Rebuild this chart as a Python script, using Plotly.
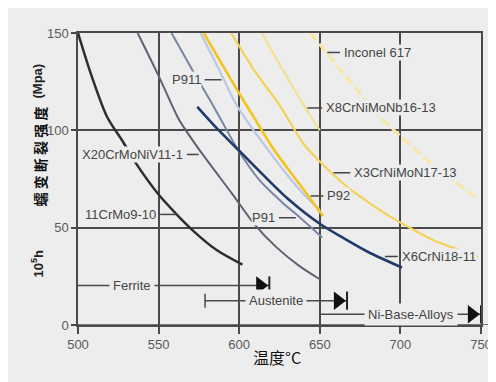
import math
import plotly.graph_objects as go

# ---------------- data ----------------
t_11crmo = [500, 508, 518, 528, 536, 550, 561, 572, 586, 602]
s_11crmo = [150, 129, 107, 94, 83, 67, 57, 48, 38.5, 31]

t_x20 = [537, 550, 562, 566.5, 577, 596, 609.5, 623, 637, 650]
s_x20 = [150, 128, 106.5, 100.5, 88, 67, 51.7, 40, 30.5, 23.5]

t_p91 = [558, 572, 578, 585, 600, 613, 626, 638, 651.5]
s_p91 = [150, 129.5, 121, 111, 89, 74, 63.5, 55, 45]

t_p911 = [576, 587, 598, 608, 617, 627, 638, 650]
s_p911 = [150, 132, 113.5, 101, 91, 80, 69, 59]

t_p92 = [578, 590, 600, 610, 620, 630, 640, 652]
s_p92 = [150, 133, 119, 105.5, 92, 80.5, 69.5, 56]

t_x6 = [574, 585, 600, 615, 630, 650, 665, 680, 701]
s_x6 = [112, 102, 89.5, 77, 65, 52, 44.5, 37.5, 29.5]

t_x3 = [595, 610, 625, 640, 650, 660, 670, 682, 695, 709, 722, 735, 748]
s_x3 = [150, 130, 113, 93, 84, 76, 69, 62, 55, 48.5, 43, 39, 35]

t_x8 = [614, 625, 637, 650]
s_x8 = [150, 134, 117, 100]

t_in617 = [644, 655, 670, 686, 700, 715, 730, 748]
s_in617 = [150, 139, 124, 108, 97, 86, 76, 65]

classes = ["Ferrite", "Austenite", "Ni-Base-Alloys"]
class_start = [500, 578.8, 650]
class_end = [618.7, 666.9, 750]
class_level = [20.3, 12.5, 5.5]
class_text_t = [533.8, 622.9, 706.8]

x_ticks = [500, 550, 600, 650, 700, 750]
y_ticks = [0, 50, 100, 150]

# ---------------- styling ----------------
BG = "#ededed"
GRID = "#4a4a4a"
W, H = 496, 382
ML, MR, MT, MB = 70, 19, 25, 65
px_per_deg = (W - ML - MR) / (x_ticks[-1] - x_ticks[0])
LABEL_FONT = dict(family="Liberation Sans, Arial", size=13, color="#454545")

fig = go.Figure()

curves = [
    (t_in617, s_in617, "#fae6a4", 3, "10px,4px"),
    (t_x8, s_x8, "#f8df88", 2, "solid"),
    (t_x3, s_x3, "#f5d257", 2.2, "solid"),
    (t_11crmo, s_11crmo, "#2e2e2e", 2.5, "solid"),
    (t_x20, s_x20, "#5d6373", 2, "solid"),
    (t_p91, s_p91, "#7a84a6", 2, "solid"),
    (t_p911, s_p911, "#bcc7e4", 2.2, "solid"),
    (t_p92, s_p92, "#f2c41c", 2.6, "solid"),
    (t_x6, s_x6, "#1f3b6b", 2.6, "solid"),
]
for tx, sy, col, wd, dash in curves:
    fig.add_trace(go.Scatter(x=tx, y=sy, mode="lines",
                             line=dict(color=col, width=wd, dash=dash,
                                       shape="spline", smoothing=0.8),
                             hoverinfo="skip"))

# class range bars with arrow heads
tri_size = 16
tip_off = (tri_size / 2) * 2 / math.sqrt(3) / px_per_deg
for i, name in enumerate(classes):
    fig.add_trace(go.Scatter(x=[class_start[i], class_end[i]],
                             y=[class_level[i], class_level[i]],
                             mode="lines", line=dict(color="#4a4a4a", width=1.5),
                             hoverinfo="skip"))
    fig.add_trace(go.Scatter(x=[class_end[i] - tip_off], y=[class_level[i]],
                             mode="markers",
                             marker=dict(symbol="triangle-right", size=tri_size,
                                         color="#111111", line=dict(width=0)),
                             hoverinfo="skip"))
    fig.add_trace(go.Scatter(x=[class_end[i]], y=[class_level[i]],
                             mode="markers",
                             marker=dict(symbol="line-ns", size=13,
                                         line=dict(color="#222222", width=2)),
                             hoverinfo="skip"))
    fig.add_annotation(x=class_text_t[i], y=class_level[i], text=name,
                       showarrow=False, bgcolor=BG, borderpad=3, font=LABEL_FONT)

# austenite start bar
fig.add_trace(go.Scatter(x=[class_start[1]], y=[class_level[1]], mode="markers",
                         marker=dict(symbol="line-ns", size=10,
                                     line=dict(color="#4a4a4a", width=1.5)),
                         hoverinfo="skip"))

# curve labels: (text, T where leader touches curve, S, text side, leader length px)
labels = [
    ("P911", 589, 126, "left", 17),
    ("X20CrMoNiV11-1", 574.9, 87.6, "left", 12),
    ("11CrMo9-10", 561.4, 56.8, "left", 17),
    ("Inconel 617", 654.6, 140, "right", 13),
    ("X8CrNiMoNb16-13", 642.3, 111.5, "right", 15),
    ("X3CrNiMoN17-13", 658.5, 78.2, "right", 17),
    ("P92", 644.3, 66.3, "right", 13),
    ("P91", 635.1, 55.1, "left", 17),
    ("X6CrNi18-11", 690.4, 35.2, "right", 13),
]
gap = 3 / px_per_deg
for txt, t0, s0, side, ln in labels:
    d = ln / px_per_deg
    if side == "left":
        x0, x1 = t0 - d, t0
        tx, xa = x0 - gap, "right"
    else:
        x0, x1 = t0, t0 + d
        tx, xa = x1 + gap, "left"
    fig.add_shape(type="line", x0=x0, x1=x1, y0=s0, y1=s0, layer="above",
                  line=dict(color="#454545", width=1.5))
    fig.add_annotation(x=tx, y=s0, text=txt, showarrow=False, xanchor=xa,
                       bgcolor=BG, borderpad=0, font=LABEL_FONT)

# extended baseline
fig.add_shape(type="line", xref="paper", yref="y", x0=-0.012, x1=1.02, y0=0, y1=0,
              line=dict(color=GRID, width=1.5))

# axis titles
def px_x(p):
    return (p - ML) / (W - ML - MR)

def px_y(p):
    return (H - MB - p) / (H - MT - MB)

cjk = "Noto Sans CJK SC"
fig.add_annotation(xref="paper", yref="paper", x=px_x(271), y=px_y(363),
                   text="温度°C", showarrow=False,
                   font=dict(family=cjk, size=16, color="#111111"))
fig.add_annotation(xref="paper", yref="paper", x=px_x(19), y=px_y(54),
                   text="<b>(Mpa)</b>", showarrow=False, textangle=-90,
                   font=dict(family="Liberation Sans, Arial", size=13, color="#222222"))
fig.add_annotation(xref="paper", yref="paper", x=px_x(19), y=px_y(149),
                   text="<b>蠕 变 断 裂 强 度</b>", showarrow=False, textangle=-90,
                   font=dict(family=cjk, size=14, color="#111111"))
fig.add_annotation(xref="paper", yref="paper", x=px_x(19), y=px_y(272),
                   text="<b>10<sup>5</sup>h</b>", showarrow=False, textangle=-90,
                   font=dict(family="Liberation Sans, Arial", size=13, color="#222222"))

axis_common = dict(showgrid=True, gridcolor=GRID, gridwidth=1.5, zeroline=False,
                   showline=True, mirror=True, linecolor=GRID, linewidth=1.5,
                   ticks="outside", tickcolor=GRID, tickwidth=1.5,
                   tickfont=dict(family="Liberation Sans, Arial", size=13, color="#5a5a5a"))
fig.update_xaxes(range=[x_ticks[0], x_ticks[-1]], tickvals=x_ticks, ticklen=7, **axis_common)
fig.update_yaxes(range=[y_ticks[0], y_ticks[-1]], tickvals=y_ticks, ticklen=5, **axis_common)

fig.update_layout(width=W, height=H, autosize=False, showlegend=False,
                  margin=dict(l=ML, r=MR, t=MT, b=MB),
                  paper_bgcolor=BG, plot_bgcolor=BG)

fig.write_html("out.html")
